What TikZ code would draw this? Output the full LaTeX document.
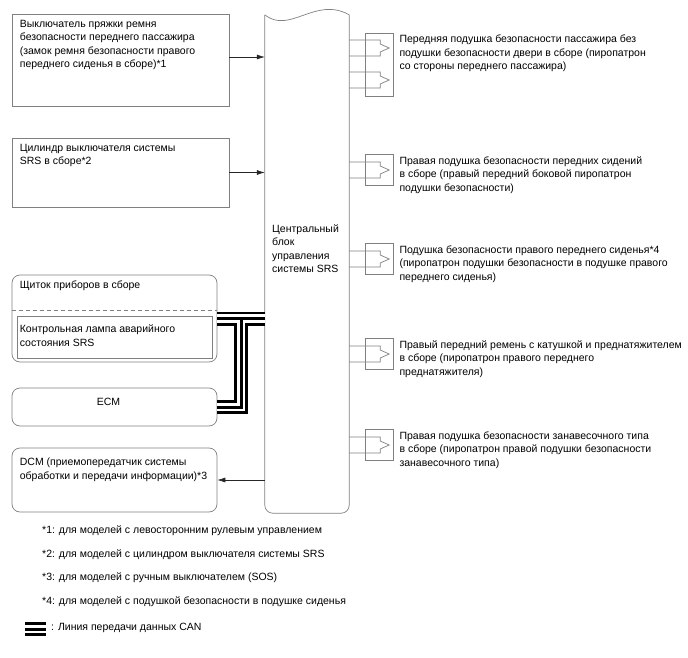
\documentclass[tikz,border=0pt]{standalone}
\usepackage{fontspec}
\setmainfont{Liberation Sans}
\usetikzlibrary{arrows.meta,positioning,calc}

\definecolor{frame}{gray}{0.5}

\tikzset{
  every node/.style={font=\fontsize{10.5}{13.5}\selectfont},
  unit/.style={draw=frame, line width=0.7pt, minimum width=217pt, inner sep=0pt},
  rnd/.style={unit, minimum width=205pt, rounded corners=8pt},
  plug/.style={draw=frame, line width=0.7pt, minimum width=28pt, inner sep=0pt},
  txt/.style={align=left, inner sep=0pt, anchor=north west},
  sig/.style={draw=black!85, line width=0.6pt, -{Latex[length=8pt,width=5pt]}},
  wire/.style={draw=frame, line width=0.7pt},
  canA/.style={line width=14pt, black},
  canB/.style={line width=8.5pt, white},
  canC/.style={line width=3pt, black},
}

\begin{document}
\begin{tikzpicture}[x=1pt, y=-1pt]
\useasboundingbox (0,0) rectangle (688,658);

% ===== Left units =====
\node[unit, minimum height=92pt] (buckle) at (120.5,60) {};
\node[unit, minimum height=69pt] (cyl) at (120.5,172.5) {};
\node[rnd, minimum height=87pt] (meter) at (114.5,318.5) {};
\node[draw=frame, line width=0.7pt, minimum width=195pt, minimum height=42pt, inner sep=0pt] (lamp) at (114.5,337) {};
\node[rnd, minimum height=38pt] (ecm) at (114.5,407) {};
\node[rnd, minimum height=64pt] (dcm) at (114.5,480) {};

\draw[wire, dash pattern=on 4pt off 3pt] ([yshift=-36pt]meter.north west) -- ([yshift=-36pt]meter.north east);

\node[txt] at ($(buckle.north west)+(8,6.2)$) {Выключатель пряжки ремня\\безопасности переднего пассажира\\(замок ремня безопасности правого\\переднего сиденья в сборе)*1};
\node[txt] at ($(cyl.north west)+(8,6.2)$) {Цилиндр выключателя системы\\SRS в сборе*2};
\node[txt] at ($(meter.north west)+(8,6.2)$) {Щиток приборов в сборе};
\node[txt] at ($(lamp.north west)+(3,9.2)$) {Контрольная лампа аварийного\\состояния SRS};
\node at ($(ecm.center)+(-6,-5)$) {ECM};
\node[txt] at ($(dcm.north west)+(8,10.2)$) {DCM (приемопередатчик системы\\обработки и передачи информации)*3};

% ===== SRS block =====
\node[minimum width=84pt, minimum height=498pt, inner sep=0pt] (ecu) at (307,264) {};
\draw[wire] (ecu.north west) .. controls ($(ecu.north west)+(25,20)$) and ($(ecu.north east)+(-34,-19)$) .. (ecu.north east);
\draw[wire, rounded corners=8pt] (ecu.north west) -- (ecu.south west) -- (ecu.south east) -- (ecu.north east);
\node[txt] (ecutxt) at (272,224.2) {Центральный\\блок\\управления\\системы SRS};

% ===== Signals =====
\coordinate (b1) at ([yshift=3pt]buckle.east);
\draw[sig] (b1) -- (b1 -| ecu.west);
\draw[sig] (cyl.east) -- (cyl.east -| ecu.west);
\draw[sig] (dcm.east -| ecu.west) -- (dcm.east);

% ===== CAN =====
\coordinate (tee) at ($(meter.east)!0.5!(meter.east -| ecu.west)$);
\foreach \s in {canA,canB,canC} {
    \draw[\s] (meter.east) -- (meter.east -| ecu.west);
    \draw[\s] (tee) |- (ecm.east);
}

% ===== Squibs =====
\node[plug, minimum height=63pt] (c1) at (379,64.5) {};
\node[plug, minimum height=31pt] (c2) at (379,169.5) {};
\node[plug, minimum height=31pt] (c3) at (379,258.5) {};
\node[plug, minimum height=31pt] (c4) at (379,353.5) {};
\node[plug, minimum height=31pt] (c5) at (379,444.5) {};

\foreach \yc in {48,80,170,259,354,445} {
    \coordinate (s) at (0,\yc);
    \draw[wire] (ecu.east |- s) ++(0,-8) -- ++(31,0) -- ++(0,4) -- ++(9,4) -- ++(-9,4) -- ++(0,4) -- ++(-31,0);
}

\node[txt] (t1) at ([shift={(6,2.2)}]c1.north east) {Передняя подушка безопасности пассажира без\\подушки безопасности двери в сборе (пиропатрон\\со стороны переднего пассажира)};
\node[txt] (t2) at ([shift={(6,2.8)}]c2.north east) {Правая подушка безопасности передних сидений\\в сборе (правый передний боковой пиропатрон\\подушки безопасности)};
\node[txt] (t3) at ([shift={(6,2.8)}]c3.north east) {Подушка безопасности правого переднего сиденья*4\\(пиропатрон подушки безопасности в подушке правого\\переднего сиденья)};
\node[txt] (t4) at ([shift={(6,2.8)}]c4.north east) {Правый передний ремень с катушкой и преднатяжителем\\в сборе (пиропатрон правого переднего\\преднатяжителя)};
\node[txt] (t5) at ([shift={(6,2.8)}]c5.north east) {Правая подушка безопасности занавесочного типа\\в сборе (пиропатрон правой подушки безопасности\\занавесочного типа)};

% ===== Notes =====
\foreach \t [count=\i] in {{*1: для моделей с левосторонним рулевым управлением},
                           {*2: для моделей с цилиндром выключателя системы SRS},
                           {*3: для моделей с ручным выключателем (SOS)},
                           {*4: для моделей с подушкой безопасности в подушке сиденья}} {
    \node[anchor=west, inner sep=0pt] (note\i) at (42,507+23.7*\i) {\t};
}

\coordinate (leg) at (25,629);
\foreach \s in {canA,canB,canC} {
    \draw[\s] (leg) -- ++(21,0);
}
\node[anchor=west, inner sep=0pt] (canlbl) at (51,628) {: Линия передачи данных CAN};

\end{tikzpicture}
\end{document}
